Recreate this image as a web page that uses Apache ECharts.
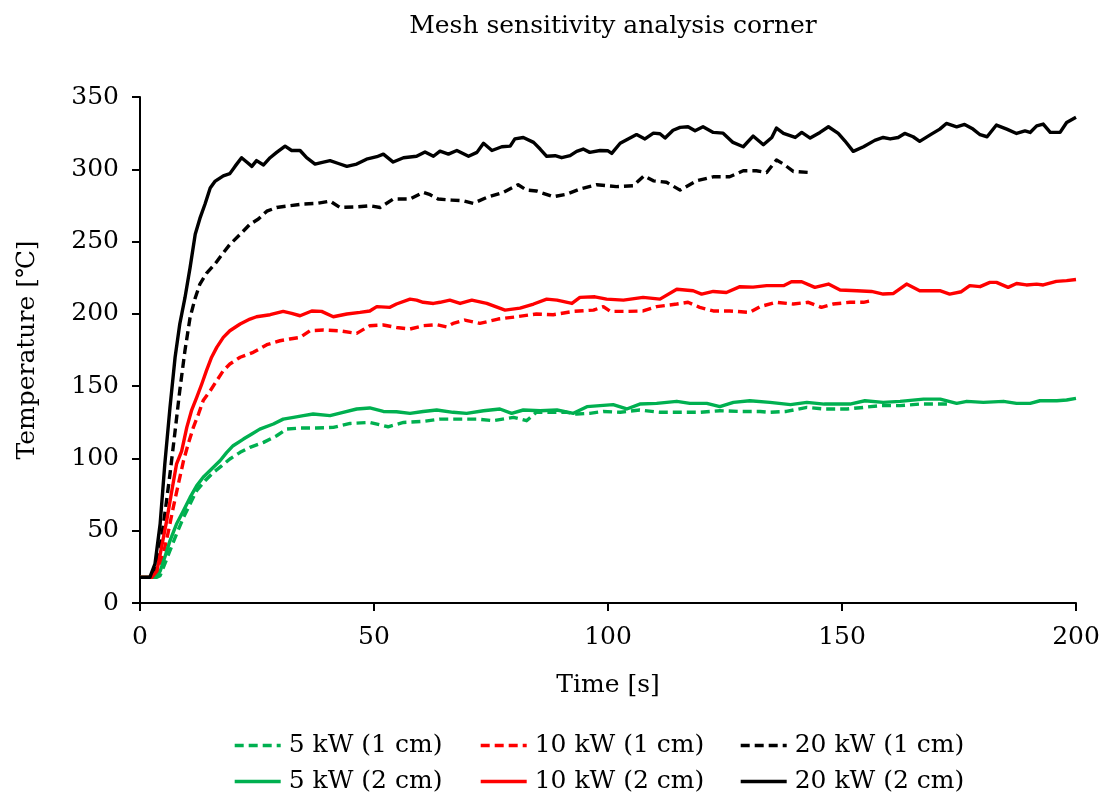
<!DOCTYPE html>
<html><head><meta charset="utf-8">
<script src="https://cdn.jsdelivr.net/npm/echarts@6/dist/echarts.min.js"></script>
<style>html,body{margin:0;padding:0;background:#fff}#c{width:1104px;height:798px}</style>
</head><body><div id="c"></div>
<script>
const titleText = 'Mesh sensitivity analysis corner';
const xName = 'Time [s]';
const yName = 'Temperature [℃]';
const seriesNames = ['5 kW (1 cm)','10 kW (1 cm)','20 kW (1 cm)','5 kW (2 cm)','10 kW (2 cm)','20 kW (2 cm)'];

const g1 = [[0,17.7],[3.5,17.7],[4.3,18.9],[5.3,27],[6.4,36.2],[7.8,47.7],[9.3,59.2],[10.7,68.5],[12.1,77.7],[13.9,84.6],[15.7,90.4],[17.5,95],[19.2,99.6],[21.4,104.2],[23.5,107.7],[26.4,111.1],[29.2,115.7],[31.3,120.3],[34.2,121],[37.7,121],[41.3,121.5],[44.9,124.2],[49.1,124.9],[53,121.9],[56.3,124.9],[60.5,125.6],[64.1,127.2],[67.7,127.2],[72,127.2],[75.5,126.1],[79.8,128.4],[82.6,126.1],[84.7,131.9],[88.3,131.9],[91.2,131.9],[93.3,130.7],[96.1,131.2],[99,132.5],[102.6,131.9],[106.8,133.5],[111.1,131.9],[115.4,131.9],[119.6,131.9],[123.9,133],[128.2,132.5],[132.5,132.5],[134.6,131.9],[138.1,132.5],[142.5,135.3],[146.2,134.2],[151.1,134.2],[154.6,135.3],[158.1,136.5],[162.4,136.5],[166.6,137.6],[170.2,137.6],[173,137.6]];

const r1 = [[0,17.7],[2.8,17.7],[3.9,22],[5,33.9],[6.1,50],[7.1,66],[8.2,82.3],[9.3,98.4],[10.3,110],[11.4,121.5],[12.5,130.7],[13.5,140],[15,146.8],[16.4,153.8],[17.8,160.7],[19.2,165.3],[21.4,170],[24.2,173.4],[27.1,178.7],[29.9,181.4],[32,182.6],[34.2,183.7],[36.3,188.3],[39.2,188.8],[42.7,188.3],[46.3,186.5],[49.1,191.8],[52,192.3],[54.8,190.6],[57.7,189.5],[60.5,191.8],[63.4,192.5],[65.5,191],[66.9,193.4],[69.4,195.7],[72.6,193.4],[76.5,196.4],[80.5,198],[84.7,199.9],[88.3,199.4],[92.6,201.7],[96.9,202.6],[99,205],[100.5,201.7],[104,201.7],[107.5,202],[110.4,205],[114.7,206.8],[117.1,208],[119.6,204.5],[122.5,202],[126,202],[130.3,201],[132.5,205],[136,208],[139.6,206.8],[142.8,208],[145.6,204.5],[148.1,206.8],[151.7,208],[154.6,208],[156.7,209.5]];

const b1 = [[0,17.7],[2.5,17.7],[3.2,22],[4.3,38.5],[5.3,61.5],[6.4,89],[7.5,119],[8.5,147],[9.6,174.5],[10.7,197.5],[11.8,211],[12.8,220.6],[14.2,228],[16,234.4],[17.5,241],[19.2,248],[21.4,255],[23.5,262],[25.3,265.6],[27.1,271],[29.2,273.6],[32,274.8],[34.9,276],[37.7,276.4],[40.6,278],[42.7,273.6],[46.3,274],[49.1,274.8],[51.3,273.6],[54.1,279.4],[57.7,279.4],[60.5,284],[62,282.4],[63.7,279.4],[66.6,278.7],[69.1,278.2],[71.2,276.4],[74.1,280.5],[77.6,284],[80.8,289.3],[82.6,285.6],[84.7,285],[88.3,281],[91.2,282.8],[94,286.3],[97.6,289.3],[101.8,288],[105.4,288.6],[107.7,295.5],[109.7,292],[112.5,291],[115.4,285.6],[118.9,292],[122.5,294.8],[126,294.8],[128.9,299],[131.7,299],[133.9,297.8],[136,306.4],[137.5,303.6],[139.6,298.5],[143,297.8]];

const g2 = [[0,17.7],[3,17.7],[4.3,22],[5.3,31.6],[6.4,43],[7.8,54.6],[9.3,63.9],[10.7,73],[12.1,81],[13.5,87],[15.3,92.7],[17.1,98.4],[18.5,104],[19.9,108.8],[22.1,113.4],[23.9,116.9],[25.6,120.3],[28.5,123.8],[30.6,127.2],[32.8,128.4],[34.9,129.6],[37,130.7],[40.6,129.6],[43.4,131.9],[46.3,134.2],[49.1,134.9],[52,132.5],[54.8,132.3],[57.7,131.2],[60.5,132.5],[63.4,133.5],[66.9,131.9],[69.8,131.2],[73.4,133],[76.9,134.2],[79.4,131.2],[81.9,133.5],[85.5,133],[89.1,133.5],[92.6,131.2],[95.5,135.8],[98.3,136.5],[101.1,137.2],[104,134.2],[106.8,137.6],[110.4,138.1],[114.7,139.5],[117.5,138.1],[121.1,138.1],[123.9,135.8],[126.8,138.8],[130.3,139.9],[134.6,138.8],[139,137.2],[142.5,138.8],[146.2,137.6],[151.7,137.6],[154.9,139.9],[158.8,138.8],[162.4,139.5],[167.4,141],[171,141],[174.5,138.1],[176.7,139.5],[180.2,138.8],[184.5,139.5],[187.3,138.1],[190.2,138.1],[192.3,139.9],[195.9,139.9],[198,140.4],[200,141.5]];

const r2 = [[0,17.7],[2.5,17.7],[3.6,22],[4.6,38.5],[5.7,57],[6.8,77.7],[7.8,96],[8.9,105],[10,121.5],[11,133],[12.1,142],[13.2,151.5],[14.2,160.7],[15.3,170],[16.4,176.8],[17.8,183.7],[19.2,188.3],[21.4,193],[23.5,196.4],[24.9,198],[27.8,199.4],[30.6,201.7],[32.4,200.3],[34.2,198.7],[36.7,202],[38.8,201.7],[41.3,198],[44.2,199.9],[47,201],[49.1,202],[50.6,205],[53.4,204.5],[54.8,206.8],[57.7,210.2],[59.1,209.5],[60.5,208],[62.7,207.2],[64.1,208],[66.2,209.5],[68.4,207.2],[70.9,209.5],[74.1,207.2],[78,202.6],[81.2,204],[84.1,206.8],[86.9,210.2],[89.1,209.5],[92.3,207.2],[94,211.4],[97.2,211.8],[99.7,210.2],[103.3,209.5],[107.5,211.4],[111.1,210.2],[114.7,217],[118.2,216],[120,213.7],[122.5,215.5],[125.3,214.8],[128.2,218.8],[131,218.5],[133.9,219.5],[137.5,219.5],[139.2,222.2],[141.4,222.2],[144.2,218.3],[147.1,220.6],[149.6,216.5],[153.2,216],[156.3,215.5],[158.8,213.7],[161,214.1],[163.8,220.6],[166.6,216],[170.9,216],[173,213.7],[175.5,215.3],[177.3,219.5],[179.5,218.8],[181.6,221.8],[183,221.8],[185.5,218.3],[187.3,221],[189.4,220],[191.6,220.6],[193,220],[195.8,222.5],[198,223],[200,223.8]];

const b2 = [[0,17.7],[2.1,17.7],[3.2,27],[4.3,54.6],[5.3,96],[6.4,135],[7.5,170],[8.5,193],[9.6,211],[10.7,232],[11.8,255],[12.8,266],[13.9,276],[15,287],[16,291.6],[17.8,295.5],[19.2,297],[20.3,302],[21.7,308],[22.8,305],[23.9,302],[24.9,306],[26.4,303],[27.8,308],[29.2,311.7],[31,316],[32.4,313],[34.2,313],[35.6,308],[37.4,303.6],[39.2,305],[40.6,306],[42.4,304],[44.2,302],[46.3,303.6],[48.4,307],[50.6,308.7],[52,310.5],[54.1,305],[56.3,308],[59.1,309],[60.9,312],[62.7,309],[64.1,312.5],[65.9,310.5],[67.7,313],[70.2,309],[72,311.7],[73.4,318],[75.2,313],[77.3,315.6],[79.1,316],[80.1,321],[81.9,322],[84.1,318.6],[85.5,314],[86.9,309],[88.7,309.4],[90.1,308],[91.9,309.4],[93.3,312.4],[94.7,314],[96.1,311.7],[98.3,313],[100,312.8],[100.8,311],[102.6,318],[104.3,321],[106.1,324],[107.9,321],[109.7,325],[111.1,324.6],[112.2,321.6],[113.9,327],[115.4,329],[117.1,329.4],[118.6,326.6],[120.3,329.4],[122.5,325.5],[124.6,325],[126.7,318.6],[128.9,315.6],[131,323],[133.2,317],[135,322],[136,328.5],[137.5,324.8],[140,322],[141.4,325.5],[143.2,321.6],[145.3,325.5],[147.1,329.4],[149.2,324.8],[150.6,319.7],[152.4,312.4],[154.6,315.6],[157,320],[158.8,322],[160.3,321],[162,322],[163.4,324.8],[165.2,322.5],[166.6,319.3],[169.1,324.3],[170.9,327.8],[172.3,331.7],[174.5,329.4],[176.2,331],[178,327.8],[179.5,323.9],[181,322.5],[183,330.6],[185.2,327.8],[187.3,324.8],[189.1,326.6],[190.2,325.5],[191.6,330],[193,331.3],[194.5,325.5],[196.6,325.5],[198,332.4],[200,336]];

const seriesData = [g1, r1, b1, g2, r2, b2];
const colors = ['#00B050','#FF0000','#000000','#00B050','#FF0000','#000000'];
const FONT = 'DejaVu Serif';
const FS = 25;

const series = seriesData.map((d, i) => ({
  name: seriesNames[i],
  type: 'line',
  data: d,
  showSymbol: false,
  symbol: 'none',
  z: i < 3 ? 2 : 3,
  lineStyle: { color: colors[i], width: 3.4, type: i < 3 ? [9, 5] : 'solid', cap: 'butt', join: 'round' },
  itemStyle: { color: colors[i] }
}));

const legendLefts = [228, 474, 734];
const legendTops = [728, 764];
const legends = seriesNames.map((n, i) => ({
  left: legendLefts[i % 3], top: legendTops[Math.floor(i / 3)],
  orient: 'horizontal', itemWidth: 46, itemHeight: 14, itemGap: 10,
  data: [n],
  itemStyle: { opacity: 0 },
  lineStyle: { width: 3.4 },
  textStyle: { fontFamily: FONT, fontSize: FS, color: '#000', padding: [0, 0, 0, 3] }
}));

const chart = echarts.init(document.getElementById('c'), null, { renderer: 'canvas' });
chart.setOption({
  animation: false,
  backgroundColor: '#fff',
  title: {
    text: titleText, left: 608, top: 9, textAlign: 'center',
    textStyle: { fontFamily: FONT, fontSize: FS, fontWeight: 'normal', color: '#000' }
  },
  legend: legends,
  grid: { left: 140, right: 28, top: 97, bottom: 195, containLabel: false },
  xAxis: {
    type: 'value', min: 0, max: 200, interval: 50,
    name: xName, nameLocation: 'middle', nameGap: 70,
    nameTextStyle: { fontFamily: FONT, fontSize: FS, color: '#000' },
    axisLine: { show: true, onZero: false, lineStyle: { color: '#000', width: 2 } },
    axisTick: { show: true, inside: false, length: 8, lineStyle: { color: '#000', width: 2 } },
    axisLabel: { fontFamily: FONT, fontSize: FS, color: '#000', margin: 22 },
    splitLine: { show: false }
  },
  yAxis: {
    type: 'value', min: 0, max: 350, interval: 50,
    name: yName, nameLocation: 'middle', nameGap: 100, nameRotate: 90,
    nameTextStyle: { fontFamily: FONT, fontSize: FS, color: '#000' },
    axisLine: { show: true, onZero: false, lineStyle: { color: '#000', width: 2 } },
    axisTick: { show: true, inside: false, length: 8, lineStyle: { color: '#000', width: 2 } },
    axisLabel: { fontFamily: FONT, fontSize: FS, color: '#000', margin: 21 },
    splitLine: { show: false }
  },
  series: series
});
</script>
</body></html>
